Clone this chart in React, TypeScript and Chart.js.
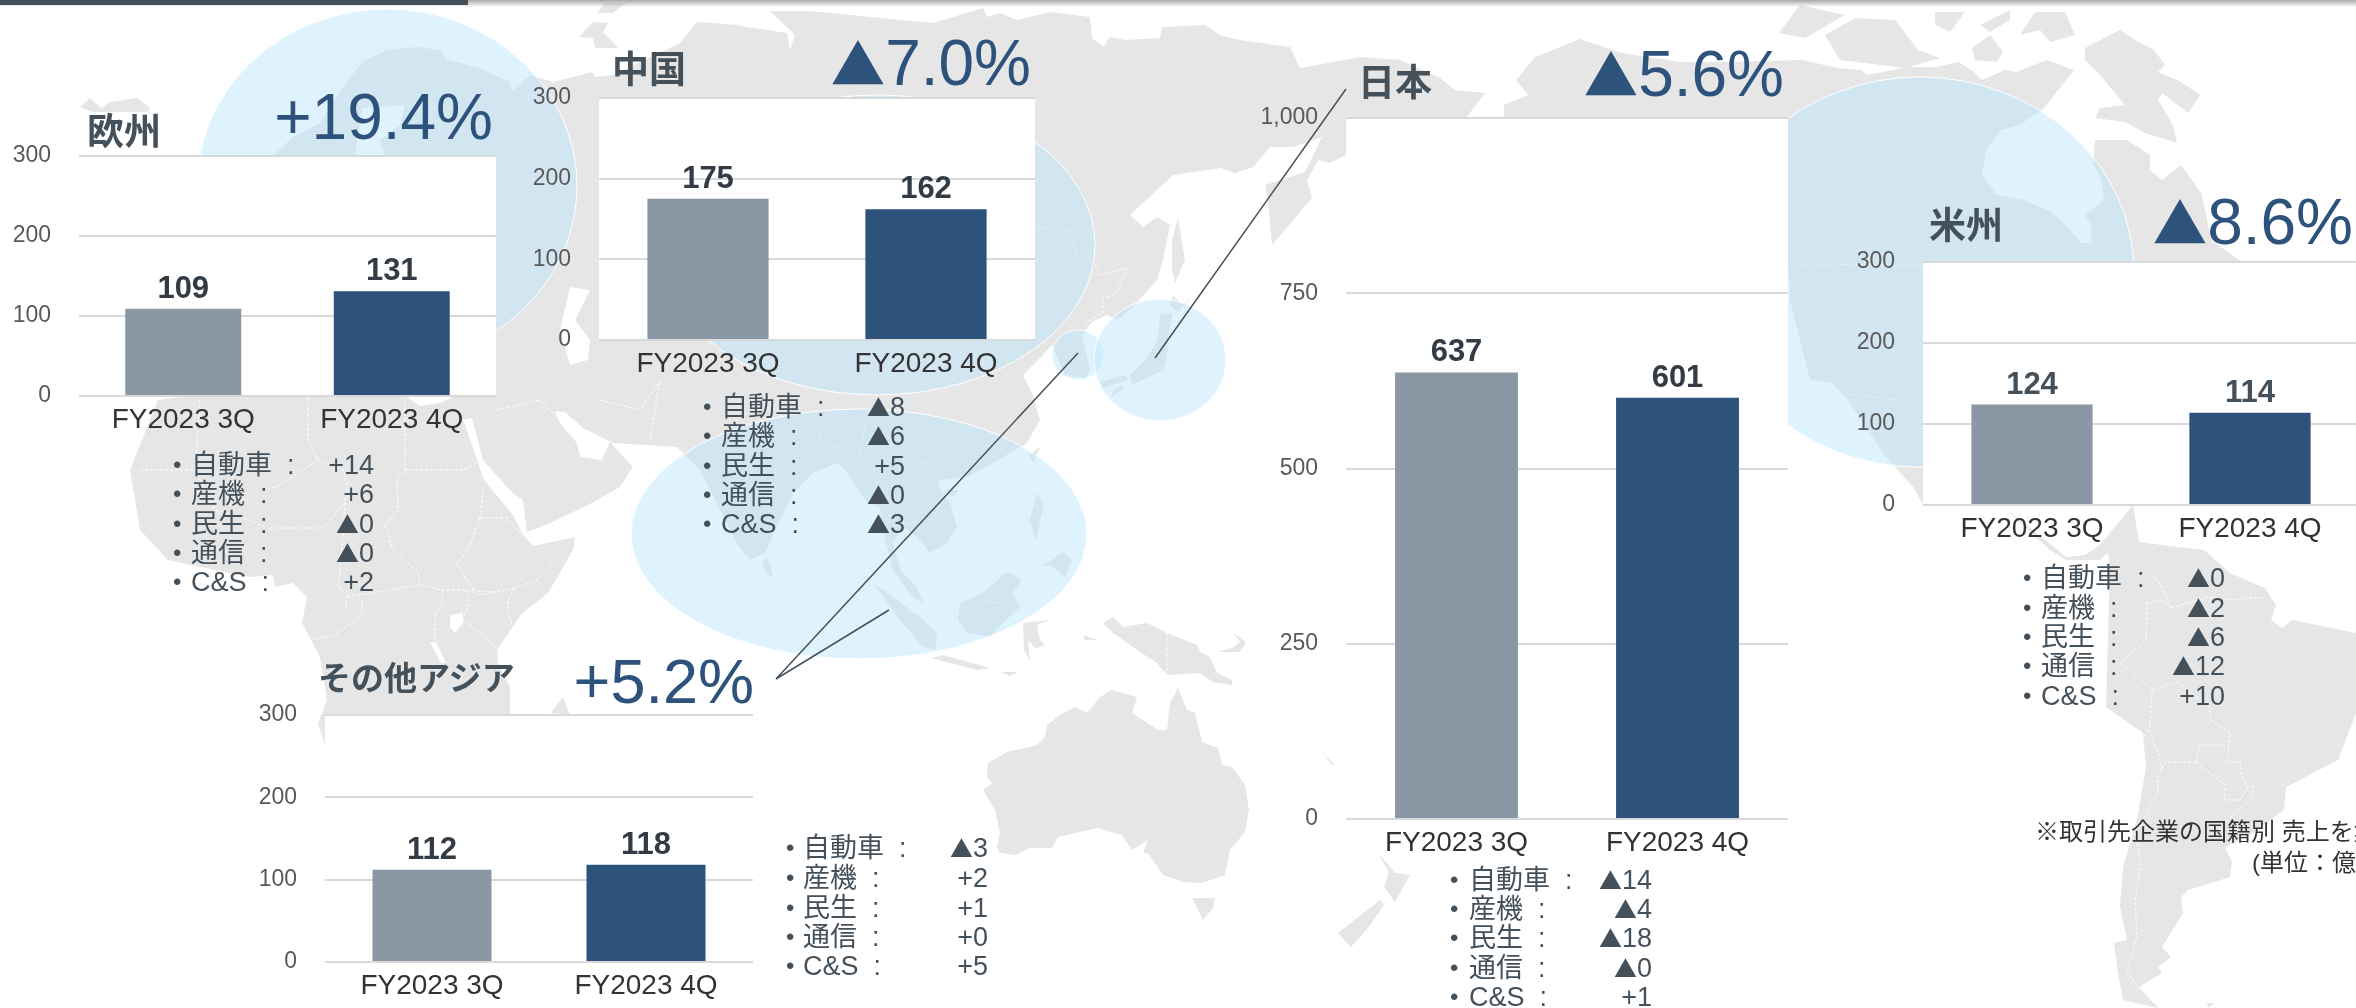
import React, { useEffect, useRef } from "react";
import { Chart, registerables } from "chart.js";

Chart.register(...registerables);

// ---- data ----
const CATEGORIES = ["FY2023 3Q", "FY2023 4Q"];
const SEGMENTS = ["自動車", "産機", "民生", "通信", "C&S"];

const EUROPE_VALUES = [109, 131];
const CHINA_VALUES = [175, 162];
const ASIA_VALUES = [112, 118];
const JAPAN_VALUES = [637, 601];
const AMERICAS_VALUES = [124, 114];

const EUROPE_CHANGES = ["+14", "+6", "▲0", "▲0", "+2"];
const CHINA_CHANGES = ["▲8", "▲6", "+5", "▲0", "▲3"];
const ASIA_CHANGES = ["▲3", "+2", "+1", "+0", "+5"];
const JAPAN_CHANGES = ["▲14", "▲4", "▲18", "▲0", "+1"];
const AMERICAS_CHANGES = ["▲0", "▲2", "▲6", "▲12", "+10"];

const BAR_COLORS = ["#8a97a4", "#2d527c"];
const FONT = '"Liberation Sans", "Noto Sans CJK JP", sans-serif';
const CJK_FONT = '"Noto Sans CJK JP", sans-serif';
const SLATE = "#44505a";
const NAVY = "#2d527c";

// ---- background artwork (not data) ----
const LAND = [
  "273,156 293,137 320,123 343,87 362,62 387,50 417,47 440,50 447,60 480,68 510,82 512,95 500,102 530,75 553,82 592,72 595,77 613,75 680,43 697,22 713,23 737,25 747,27 787,33 790,50 795,35 770,11 810,11 933,23 983,8 987,17 1000,13 1017,20 1050,12 1090,17 1092,38 1103,47 1110,37 1125,40 1160,38 1162,27 1205,25 1220,35 1240,40 1290,47 1300,68 1345,60 1362,57 1400,60 1440,78 1455,90 1485,93 1466,118 1346,118 1346,155 1330,163 1318,160 1307,180 1312,198 1295,218 1272,245 1268,200 1265,185 1305,172 1322,137 1293,147 1270,147 1253,167 1235,173 1220,168 1173,175 1130,215 1143,227 1157,217 1170,225 1163,260 1157,280 1130,310 1117,320 1107,315 1092,322 1082,335 1090,370 1085,378 1065,375 1052,345 1043,355 1023,375 1033,395 1040,420 1027,443 993,463 967,477 940,480 937,485 950,503 957,527 947,543 930,553 917,537 903,527 893,543 900,570 917,587 923,603 913,597 893,570 883,530 880,507 867,503 845,470 837,463 813,473 793,493 775,530 765,553 750,560 738,545 715,500 700,470 677,447 613,443 597,435 583,428 565,412 555,411 560,423 577,443 580,457 602,460 610,442 633,467 620,487 588,505 550,523 527,532 523,500 513,493 498,477 483,460 472,418 463,420 466,428 484,480 513,515 523,535 533,546 575,537 573,550 548,593 522,613 497,650 498,663 510,687 510,720 325,745 318,723 327,700 320,657 302,623 307,597 293,583 275,587 273,575 250,577 215,570 168,560 140,530 130,470 158,400 190,396",
  "80,107 90,98 101,108 110,102 137,98 150,108 148,112 92,112",
  "579,37 593,22 608,23 603,32 618,48 595,48 593,38",
  "597,13 612,13 627,3 605,3",
  "551,713 563,697 570,715",
  "1178,218 1185,260 1175,283 1172,270 1172,240",
  "1173,295 1182,305 1192,297 1178,312 1170,305",
  "1160,315 1172,313 1168,340 1167,355 1163,370 1132,385 1130,375 1145,360 1158,340",
  "1113,390 1122,385 1122,390 1112,397",
  "1100,382 1125,375 1128,380 1103,388",
  "1040,447 1033,463 1029,455",
  "960,490 945,490 952,497",
  "767,557 773,575 770,577 762,565",
  "1037,493 1044,505 1040,520 1036,540 1030,520",
  "1063,552 1072,560 1065,577 1050,565 1042,567",
  "873,583 893,597 923,620 937,633 935,650 923,647 900,620",
  "1007,572 1022,580 1013,593 1020,607 1003,623 990,637 967,633 958,620 960,603 983,593",
  "932,658 943,655 990,668 977,670 950,663",
  "1000,672 1018,672 1010,676",
  "1023,623 1050,620 1037,625 1040,640 1045,645 1035,648 1028,640 1030,660 1024,650",
  "1103,623 1113,617 1123,627 1147,623 1167,633 1197,645 1200,652 1210,657 1217,673 1232,680 1232,685 1213,682 1200,673 1167,675 1157,663 1137,650 1113,633",
  "1083,635 1097,640 1085,640",
  "1233,633 1246,642 1240,652 1218,652 1232,648 1240,642",
  "988,763 1007,752 1037,745 1045,737 1047,725 1060,715 1075,707 1087,713 1100,697 1112,690 1137,697 1132,713 1158,730 1167,730 1170,703 1178,688 1187,710 1195,713 1202,742 1218,748 1222,765 1232,767 1245,785 1249,810 1245,832 1230,850 1225,875 1202,883 1183,882 1163,875 1148,853 1143,853 1148,840 1132,850 1122,835 1097,828 1058,837 1052,848 1030,848 1015,855 1000,853 997,847 1000,833 995,810 983,790 992,783 987,777",
  "1192,898 1215,898 1213,908 1203,920",
  "1338,933 1380,900 1384,905 1368,928 1351,947",
  "1378,853 1395,873 1410,875 1395,902 1384,887 1389,872",
  "1322,752 1335,765 1332,765",
  "1504,105 1528,95 1516,80 1535,57 1580,39 1622,53 1680,62 1720,62 1802,60 1838,68 1861,70 1867,75 1909,67 1936,67 1959,62 1974,72 1982,80 2005,70 2016,72 2047,60 2074,70 2044,108 2020,125 2001,130 1986,150 1982,175 1997,195 2024,200 2051,212 2066,225 2081,243 2091,243 2091,225 2085,215 2104,200 2102,180 2093,165 2095,140 2127,140 2150,155 2150,170 2162,180 2181,165 2192,180 2202,195 2211,240 2242,262 1923,505 1913,487 1886,457 1848,400 1832,383 1810,380 1790,300 1780,118 1504,118",
  "2085,48 2120,30 2135,40 2154,50 2165,65 2158,72 2181,82 2200,95 2188,113 2162,93 2158,100 2173,125 2177,143 2145,133 2125,122 2095,118 2100,108 2125,105 2100,75 2085,60",
  "1779,33 1800,5 1845,15 1805,38",
  "1825,35 1855,18 1895,20 1918,50 1940,58 1905,68 1840,60",
  "1972,48 1990,35 2003,52 1997,62 1975,60",
  "1935,12 1965,12 1950,32 1935,25",
  "1980,25 2010,10 2010,20 1990,32",
  "2020,35 2035,12 2065,12 2075,35 2050,42 2040,30",
  "2001,505 2054,547 2066,557 2085,555 2100,545 2133,505 2139,542 2162,545 2204,550 2230,573 2265,588 2276,605 2271,620 2282,628 2292,620 2356,633 2356,713 2338,760 2286,787 2284,810 2253,833 2225,847 2232,862 2230,877 2188,890 2181,897 2183,913 2162,947 2171,957 2158,967 2162,973 2139,987 2158,1008 2123,1000 2118,973 2114,943 2127,940 2120,907 2123,867 2137,820 2146,767 2143,733 2106,707 2110,567 2108,553 2100,560 2085,560 2066,560 2050,550",
  "2207,1003 2214,1003 2208,1008",
];

const WATER = [
  "570,287 590,290 575,320 590,340 588,360 570,365 560,330",
  "355,156 362,108 405,105 400,125 380,140 385,156",
  "405,396 455,396 440,403 420,406",
  "450,615 463,613 463,623 455,633 450,627",
  "430,642 436,642 446,663 441,663",
];

const BORDERS = [
  "405,398 405,470 397,480 398,510 385,525 393,550 418,572 420,585 442,590 465,590 495,592 515,588 537,580 553,563",
  "405,470 463,470 482,460",
  "308,398 308,440 318,460 277,487 268,488",
  "318,460 343,470 347,485 345,503 323,528 267,528",
  "480,518 483,490",
  "480,518 507,518 522,535 517,540",
  "480,518 470,545 457,565 477,595 495,592",
  "345,503 340,570 338,585 347,597 345,610",
  "347,597 390,590 418,585",
  "362,600 362,615 335,635 312,640",
  "442,590 442,605 435,615 435,640",
  "465,590 470,600 463,620 483,635 498,650",
  "515,588 508,600 508,610 512,625",
  "200,400 195,470 215,510 250,520 267,528",
  "140,470 200,470",
  "497,410 540,400 560,420 575,430",
  "600,400 640,410 660,380 650,440",
  "1035,227 1070,230 1077,258 1093,260 1100,275 1127,268 1115,295 1102,298 1103,312 1083,325",
  "797,417 820,427 818,453 840,445 848,468 860,453 867,418",
  "867,418 910,467 933,460 940,470 917,487 937,517 947,520",
  "895,500 905,525 918,520",
  "2147,602 2146,640 2120,663 2139,678 2152,690 2150,727 2144,737",
  "2152,690 2177,682 2209,707 2211,720 2230,733 2227,762 2240,762 2242,777 2248,787 2253,787 2253,797 2225,822",
  "2196,762 2165,762 2158,777 2158,793 2135,833 2141,863 2135,900 2137,937 2127,970 2139,990 2150,992",
  "2196,762 2225,785 2225,800 2240,800 2248,787",
  "2196,762 2200,745 2227,745",
  "2146,603 2162,600 2171,608 2162,587 2154,577",
  "2171,608 2208,597 2231,600 2248,598 2263,598",
  "2150,730 2158,753 2162,770",
  "1790,264 1923,265",
  "1838,393 1898,400 1923,417",
  "1167,633 1167,675",
  "982,600 1010,605 1020,590",
];

const REGIONS: [number, number, number, number][] = [
  [387, 186, 190, 177],
  [877, 245, 218, 150],
  [859, 534, 228, 125],
  [1078, 355, 26, 25],
  [1160, 360, 66, 61],
  [1920, 272, 214, 195],
];

const LEADERS = [
  "1346,89 1155,358",
  "1078,353 776,679 889,610",
];

// ---- bar chart ----
type BarProps = {
  values: number[];
  left: number;
  top: number;
  width: number;
  height: number;
  max: number;
  step: number;
  labelColor: string;
};

const Y_GUTTER = 100;
const X_GUTTER = 44;
const TOP_GUTTER = 20;

function BarChart({ values, left, top, width, height, max, step, labelColor }: BarProps) {
  const ref = useRef<HTMLCanvasElement | null>(null);
  useEffect(() => {
    if (!ref.current) return;
    const chart = new Chart(ref.current, {
      type: "bar",
      data: {
        labels: CATEGORIES,
        datasets: [
          {
            data: values,
            backgroundColor: BAR_COLORS,
            barPercentage: 0.556,
            categoryPercentage: 1,
          },
        ],
      },
      options: {
        responsive: false,
        animation: false,
        devicePixelRatio: 1,
        layout: { padding: { top: TOP_GUTTER, left: 0, right: 0, bottom: 0 } },
        plugins: { legend: { display: false }, tooltip: { enabled: false } },
        scales: {
          x: {
            afterFit: (s: any) => {
              s.height = X_GUTTER;
              s.paddingLeft = 0;
              s.paddingRight = 0;
            },
            grid: { display: false, drawTicks: false },
            border: { display: false },
            ticks: {
              color: "#333333",
              font: { family: FONT, size: 28 },
              padding: 7,
              maxRotation: 0,
              autoSkip: false,
            },
          },
          y: {
            min: 0,
            max,
            afterFit: (s: any) => {
              s.width = Y_GUTTER;
              s.paddingTop = 0;
              s.paddingBottom = 0;
            },
            grid: { color: "#d9d9d9", lineWidth: 2, drawTicks: false },
            border: { display: false },
            ticks: {
              stepSize: step,
              color: "#595959",
              font: { family: FONT, size: 23 },
              padding: 28,
            },
          },
        },
      },
      plugins: [
        {
          id: "plotBackground",
          beforeDraw(c: any) {
            const a = c.chartArea;
            c.ctx.save();
            c.ctx.fillStyle = "#ffffff";
            c.ctx.fillRect(a.left, a.top, a.right - a.left, a.bottom - a.top);
            c.ctx.restore();
          },
        },
        {
          id: "barValues",
          afterDatasetsDraw(c: any) {
            const ctx = c.ctx;
            ctx.save();
            ctx.font = `bold 31px ${FONT}`;
            ctx.fillStyle = labelColor;
            ctx.textAlign = "center";
            ctx.textBaseline = "alphabetic";
            c.getDatasetMeta(0).data.forEach((bar: any, i: number) => {
              ctx.fillText(String(values[i]), bar.x, bar.y - 11);
            });
            ctx.restore();
          },
        },
      ],
    });
    return () => chart.destroy();
  }, []);
  return (
    <canvas
      ref={ref}
      width={width + Y_GUTTER}
      height={height + TOP_GUTTER + X_GUTTER}
      style={{ position: "absolute", left: left - Y_GUTTER, top: top - TOP_GUTTER, display: "block" }}
    />
  );
}

// ---- texts ----
function Text({ x, y, right, size, color, bold, children }: any) {
  return (
    <div
      style={{
        position: "absolute",
        top: y,
        left: right ? undefined : x,
        right: right ? 2356 - x : undefined,
        transform: "translateY(-50%)",
        fontFamily: FONT,
        fontSize: size,
        lineHeight: 1,
        fontWeight: bold ? 700 : 400,
        color,
        whiteSpace: "nowrap",
      }}
    >
      {children}
    </div>
  );
}

function Signed({ text }: { text: string }) {
  if (!text.startsWith("▲")) return <>{text}</>;
  return (
    <>
      <span style={{ fontFamily: CJK_FONT, fontSize: "0.85em", lineHeight: 0 }}>▲</span>
      {text.slice(1)}
    </>
  );
}

function ChangeList({ changes, bullet, label, valueRight, rows }: any) {
  return (
    <>
      {SEGMENTS.map((s, i) => (
        <React.Fragment key={s}>
          <Text x={bullet - 4} y={rows[i]} size={24} color={SLATE}>•</Text>
          <Text x={label} y={rows[i]} size={27} color={SLATE}>{s}{"\u00a0\u00a0"}:</Text>
          <Text x={valueRight} y={rows[i]} right size={27} color={SLATE}><Signed text={changes[i]} /></Text>
        </React.Fragment>
      ))}
    </>
  );
}

export default function App() {
  return (
    <div style={{ position: "fixed", left: 0, top: 0, width: 2356, height: 1008, overflow: "hidden", background: "#fff" }}>
      <svg width={2356} height={1008} style={{ position: "absolute", left: 0, top: 0 }}>
        {LAND.map((p, i) => <polygon key={i} points={p} fill="#e6e6e6" />)}
        {WATER.map((p, i) => <polygon key={i} points={p} fill="#ffffff" />)}
        {BORDERS.map((p, i) => (
          <polyline key={i} points={p} fill="none" stroke="#ffffff" strokeWidth={1} strokeDasharray="3 2" />
        ))}
        {REGIONS.map(([cx, cy, rx, ry], i) => (
          <ellipse key={i} cx={cx} cy={cy} rx={rx} ry={ry} fill="rgba(188,230,253,0.48)" stroke="#ffffff" strokeWidth={1} />
        ))}
      </svg>

      <div style={{ position: "absolute", left: 0, top: 0, width: 2356, height: 7, background: "linear-gradient(#a8a8a8, rgba(255,255,255,0))" }} />
      <div style={{ position: "absolute", left: 0, top: 0, width: 468, height: 5, background: SLATE }} />

      <BarChart values={EUROPE_VALUES} left={79} top={156} width={417} height={240} max={300} step={100} labelColor="#333b44" />
      <BarChart values={CHINA_VALUES} left={599} top={98} width={436} height={242} max={300} step={100} labelColor="#333b44" />
      <BarChart values={ASIA_VALUES} left={325} top={715} width={428} height={247} max={300} step={100} labelColor="#333b44" />
      <BarChart values={JAPAN_VALUES} left={1346} top={118} width={442} height={701} max={1000} step={250} labelColor="#333b44" />
      <BarChart values={AMERICAS_VALUES} left={1923} top={262} width={436} height={243} max={300} step={100} labelColor={SLATE} />

      <svg width={2356} height={1008} style={{ position: "absolute", left: 0, top: 0 }}>
        {LEADERS.map((p, i) => (
          <polyline key={i} points={p} fill="none" stroke={SLATE} strokeWidth={1.5} />
        ))}
      </svg>

      <Text x={87} y={132} size={37} color={SLATE} bold>欧州</Text>
      <Text x={612} y={70} size={37} color={SLATE} bold>中国</Text>
      <Text x={318} y={678} size={33} color={SLATE} bold>その他アジア</Text>
      <Text x={1358} y={83} size={37} color={SLATE} bold>日本</Text>
      <Text x={1929} y={226} size={37} color={SLATE} bold>米州</Text>

      <Text x={493} y={117} right size={64} color={NAVY}>+19.4%</Text>
      <Text x={1031} y={63} right size={64} color={NAVY}><Signed text="▲7.0%" /></Text>
      <Text x={754} y={681} right size={63} color={NAVY}>+5.2%</Text>
      <Text x={1784} y={74} right size={64} color={NAVY}><Signed text="▲5.6%" /></Text>
      <Text x={2353} y={222} right size={64} color={NAVY}><Signed text="▲8.6%" /></Text>

      <ChangeList changes={EUROPE_CHANGES} bullet={177} label={191} valueRight={374} rows={[465, 494, 524, 553, 582]} />
      <ChangeList changes={CHINA_CHANGES} bullet={707} label={721} valueRight={905} rows={[407, 436, 466, 495, 524]} />
      <ChangeList changes={ASIA_CHANGES} bullet={790} label={803} valueRight={988} rows={[848, 878, 908, 937, 966]} />
      <ChangeList changes={JAPAN_CHANGES} bullet={1454} label={1469} valueRight={1652} rows={[880, 909, 938, 968, 997]} />
      <ChangeList changes={AMERICAS_CHANGES} bullet={2027} label={2041} valueRight={2225} rows={[578, 608, 637, 666, 696]} />

      <Text x={2035} y={832} size={24} color="#333333">※取引先企業の国籍別 売上を集計</Text>
      <Text x={2252} y={863} size={24} color="#333333">(単位：億円)</Text>
    </div>
  );
}
